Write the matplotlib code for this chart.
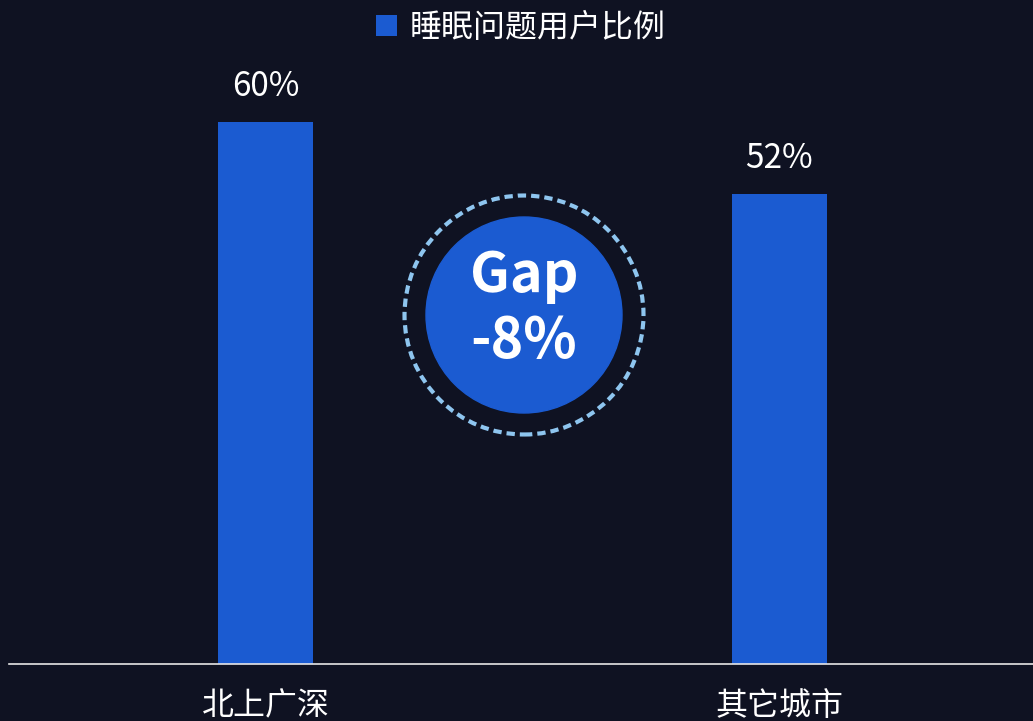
import matplotlib
matplotlib.use('Agg')
from matplotlib import pyplot as plt
from matplotlib.patches import Circle

# 数据
categories = ['北上广深', '其它城市']
values = [60, 52]
series_name = '睡眠问题用户比例'
gap_text = ['Gap', '-8%']

bg = '#0f1222'
bar_color = '#1b5bd1'
ring_color = '#8ec5ef'

plt.rcParams['font.family'] = ['Noto Sans CJK SC', 'DejaVu Sans']
plt.rcParams['axes.unicode_minus'] = False

W, H = 1033, 721
fig = plt.figure(figsize=(W / 100, H / 100), dpi=100, facecolor=bg)

# 主坐标轴: 基线在 y=663.5px, 每 1% ≈ 9.02px
ax = fig.add_axes([9 / W, 57.5 / H, 1027 / W, 649.4 / H], facecolor=bg)
x = list(range(len(categories)))
bars = ax.bar(x, values, width=0.185, color=bar_color, label=series_name, zorder=2)
ax.set_xlim(-0.5, 1.5)
ax.set_ylim(0, 72)
for b, v in zip(bars, values):
    ax.text(b.get_x() + b.get_width() / 2, v + 2.0, '{}%'.format(v),
            ha='center', va='bottom', color='white', fontsize=24)

ax.set_xticks(x)
ax.set_xticklabels(categories, fontsize=23, color='white')
ax.tick_params(axis='x', length=0, pad=19)
ax.set_yticks([])
for s in ['top', 'right', 'left']:
    ax.spines[s].set_visible(False)
ax.spines['bottom'].set_color('#e6e6e6')
ax.spines['bottom'].set_linewidth(1.2)

leg = fig.legend(handles=[bars], labels=[series_name], loc='center',
                 bbox_to_anchor=(521 / W, 1 - 28 / H), frameon=False,
                 fontsize=23, handlelength=0.65, handleheight=0.65,
                 handletextpad=0.4, labelcolor='white')

# 中间的 Gap 圆圈
cx, cy, size = 524, 315, 260
ax2 = fig.add_axes([(cx - size / 2) / W, (H - cy - size / 2) / H, size / W, size / H])
ax2.set_xlim(-size / 2, size / 2)
ax2.set_ylim(-size / 2, size / 2)
ax2.set_aspect('equal')
ax2.axis('off')
ax2.add_patch(Circle((0, 0), 98, color=bar_color, zorder=1))
ax2.add_patch(Circle((0, 0), 119.5, fill=False, edgecolor=ring_color,
                     linewidth=3, linestyle=(0, (2, 1.2)), zorder=1))
ax2.text(0, 23, gap_text[0], ha='center', va='baseline', color='white',
         fontsize=40, fontweight='bold')
ax2.text(0, -42, gap_text[1], ha='center', va='baseline', color='white',
         fontsize=40, fontweight='bold')

plt.savefig('out.png', dpi=100, facecolor=bg)
plt.close('all')
